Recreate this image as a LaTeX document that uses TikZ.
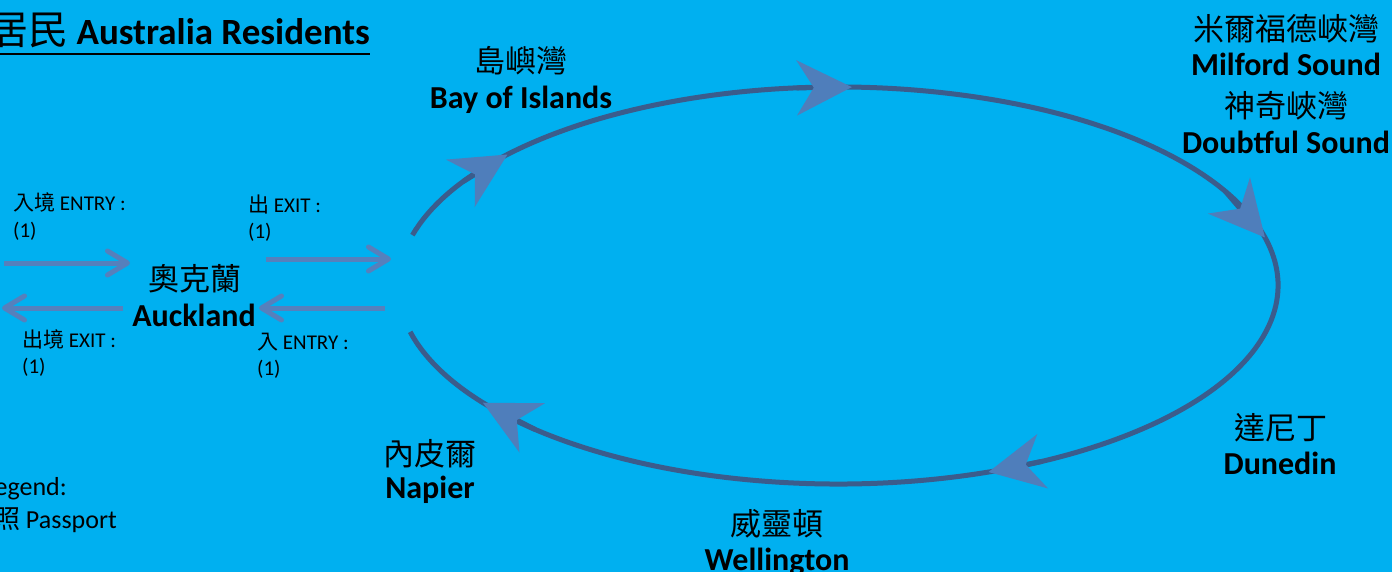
\documentclass[tikz,border=0pt]{standalone}
\usepackage{fontspec}
\setmainfont{Carlito}
\newfontfamily\cjk{Noto Sans CJK TC}
\usetikzlibrary{arrows.meta,calc}
\definecolor{bg}{HTML}{00B0F0}
\definecolor{ringcol}{HTML}{3B5C8C}
\definecolor{tipcol}{HTML}{4F7EBB}
\definecolor{flowcol}{HTML}{5680BC}
\tikzset{
  place/.style={font=\bfseries\fontsize{32}{32}\selectfont, anchor=base, inner sep=0pt},
  placecn/.style={font=\cjk\fontsize{31}{31}\selectfont, anchor=base, inner sep=0pt},
  smalllbl/.style={font=\fontsize{21}{21}\selectfont, anchor=base west, inner sep=0pt},
  legendtxt/.style={font=\fontsize{26}{26}\selectfont, anchor=base east, inner sep=0pt},
  flow/.style={draw=flowcol, line width=5pt, -{Straight Barb[length=20pt,width=24pt,round]}},
  ring/.style={draw=ringcol, line width=5pt},
  bigtip/.style={draw=ringcol, line width=5pt, -{Stealth[length=55pt,width=55pt,inset=17pt,color=tipcol]}},
}
\newcommand{\ecoord}[2]{\coordinate (#1) at ({838+440*cos(#2)},{285.5+198.5*sin(#2)});}
\begin{document}
\begin{tikzpicture}[x=1pt,y=-1pt]
\useasboundingbox (0,0) rectangle (1392,572);
\clip (0,0) rectangle (1392,572);
\fill[bg] (0,0) rectangle (1392,572);

% title
\node[font=\bfseries\fontsize{37}{37}\selectfont, anchor=base east, inner sep=0pt] (title) at (370,45) {{\mdseries\cjk\fontsize{40}{40}\selectfont 居民} Australia Residents};
\coordinate (ulL) at (0,54);
\coordinate (ulR) at (370,54);
\draw[line width=2pt] (ulL) -- (ulR);

% ring
\ecoord{rs}{194.7}
\draw[ring] (rs) arc[start angle=194.7, end angle=526.5, x radius=440, y radius=198.5];

% ring arrowheads
\ecoord{b1}{211.6} \ecoord{e1}{221.3}
\ecoord{b2}{264.6} \ecoord{e2}{271.8}
\ecoord{b3}{331.7} \ecoord{e3}{346}
\ecoord{b4}{422.5} \ecoord{e4}{430}
\ecoord{b5}{493.5} \ecoord{e5}{503.8}
\draw[bigtip] (b1) -- (e1);
\draw[bigtip] (b2) -- (e2);
\draw[bigtip] (b3) -- (e3);
\draw[bigtip] (b4) -- (e4);
\draw[bigtip] (b5) -- (e5);

% Auckland
\node[placecn] (akcn) at (195,290) {奧克蘭};
\node[place] (aken) at (194,326) {Auckland};

% flow arrows
\coordinate (f1s) at (4,263);   \coordinate (f1e) at (130,263);
\coordinate (f2s) at (266,259); \coordinate (f2e) at (391,259);
\coordinate (f3s) at (123,308); \coordinate (f3e) at (2,308);
\coordinate (f4s) at (385,308); \coordinate (f4e) at (259,308);
\draw[flow] (f1s) -- (f1e);
\draw[flow] (f2s) -- (f2e);
\draw[flow] (f3s) -- (f3e);
\draw[flow] (f4s) -- (f4e);

% small labels
\node[smalllbl] (l1a) at (13,211) {{\cjk 入境} ENTRY :};
\node[smalllbl] (l1b) at (13,237) {(1)};
\node[smalllbl] (l2a) at (248,213) {{\cjk 出} EXIT :};
\node[smalllbl] (l2b) at (248,239) {(1)};
\node[smalllbl] (l3a) at (22,347) {{\cjk 出境} EXIT :};
\node[smalllbl] (l3b) at (22,373) {(1)};
\node[smalllbl] (l4a) at (257,349) {{\cjk 入} ENTRY :};
\node[smalllbl] (l4b) at (257,375) {(1)};

% places
\node[placecn] (bicn) at (521,73) {島嶼灣};
\node[place] (bien) at (521,109) {Bay of Islands};
\node[placecn] (mscn) at (1286,41) {米爾福德峽灣};
\node[place] (msen) at (1286,76) {Milford Sound};
\node[placecn] (dscn) at (1286,118) {神奇峽灣};
\node[place] (dsen) at (1286,154) {Doubtful Sound};
\node[placecn] (ducn) at (1281,439) {達尼丁};
\node[place] (duen) at (1280,474) {Dunedin};
\node[placecn] (wecn) at (777,535) {威靈頓};
\node[place] (ween) at (777,570) {Wellington};
\node[placecn] (nacn) at (430,465) {內皮爾};
\node[place] (naen) at (430,498) {Napier};

% legend
\node[legendtxt] (lg1) at (67,495) {Legend:};
\node[legendtxt] (lg2) at (117,528) {{\cjk 照} Passport};
\end{tikzpicture}
\end{document}
